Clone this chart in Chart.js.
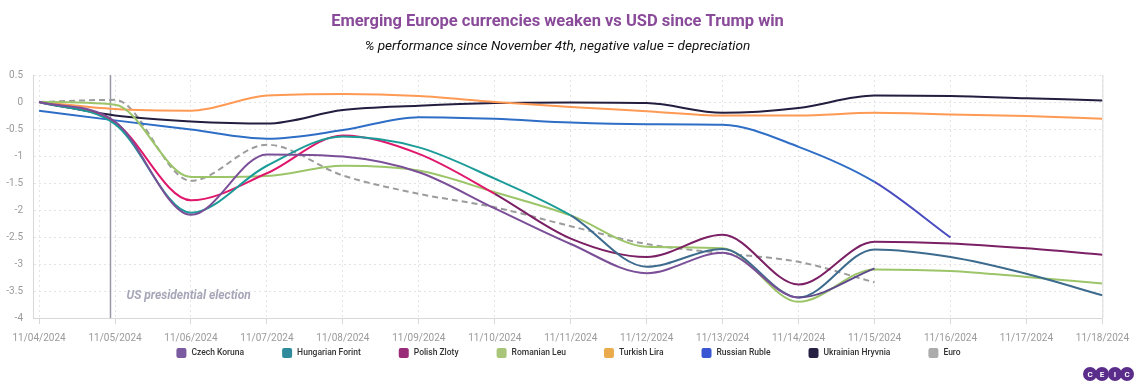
<!DOCTYPE html>
<html><head><meta charset="utf-8">
<script src="https://cdn.jsdelivr.net/npm/chart.js@4.4.1/dist/chart.umd.min.js"></script>
<style>html,body{margin:0;padding:0;background:#fff;}#wrap{width:1137px;height:389px;position:relative;}</style>
</head><body><div id="wrap"><canvas id="c" width="1137" height="389"></canvas></div>
<script>
const titleText = 'Emerging Europe currencies weaken vs USD since Trump win';
const subtitleText = '% performance since November 4th, negative value = depreciation';
const electionLabel = 'US presidential election';
const electionDay = 0.94;
const dates = ['11/04/2024','11/05/2024','11/06/2024','11/07/2024','11/08/2024','11/09/2024','11/10/2024','11/11/2024','11/12/2024','11/13/2024','11/14/2024','11/15/2024','11/16/2024','11/17/2024','11/18/2024'];
const yTickValues = [-4,-3.5,-3,-2.5,-2,-1.5,-1,-0.5,0,0.5];
const seriesNames = ['Czech Koruna','Hungarian Forint','Polish Zloty','Romanian Leu','Turkish Lira','Russian Ruble','Ukrainian Hryvnia','Euro'];
const czechKoruna = [0,-0.36,-2.09,-0.97,-1.01,-1.30,-1.97,-2.63,-3.17,-2.79,-3.62,-3.08];
const hungarianForint = [0,-0.41,-2.05,-1.18,-0.64,-0.84,-1.42,-2.10,-3.05,-2.72,-3.62,-2.73,-2.87,-3.18,-3.58];
const polishZloty = [0,-0.38,-1.82,-1.32,-0.62,-0.96,-1.70,-2.53,-2.87,-2.46,-3.38,-2.59,-2.62,-2.71,-2.83];
const romanianLeu = [0,-0.05,-1.39,-1.37,-1.18,-1.27,-1.67,-2.10,-2.68,-2.71,-3.70,-3.10,-3.13,-3.24,-3.36];
const turkishLira = [0,-0.13,-0.16,0.12,0.15,0.11,0.0,-0.09,-0.17,-0.25,-0.25,-0.20,-0.23,-0.26,-0.31];
const russianRuble = [-0.16,-0.34,-0.51,-0.68,-0.52,-0.28,-0.31,-0.38,-0.41,-0.42,-0.83,-1.48,-2.51];
const ukrainianHryvnia = [0,-0.25,-0.36,-0.40,-0.15,-0.07,-0.02,-0.01,-0.02,-0.20,-0.11,0.12,0.11,0.07,0.03];
const euro = [0,0.04,-1.46,-0.79,-1.36,-1.70,-1.95,-2.30,-2.63,-2.80,-2.96,-3.34];

const seriesValues = [czechKoruna,hungarianForint,polishZloty,romanianLeu,turkishLira,russianRuble,ukrainianHryvnia,euro];
const lineColors = ['#7b4f97','#1c9c98','#e0186c','#9cc56a','#ff9a55','#2f6ec6','#231d3f','#9c9c9c'];
const lateColors = ['#5f4a8c','#3d6b8e','#7b2064',null,null,'#4a4cc0',null,null];
const lateFrom = [10,7,6,null,null,11,null,null];
const legendColors = ['#7a5aa0','#2f8b9b','#9a2b78','#a9c57a','#e9ab4b','#3b56d2','#262143','#ababab'];

Chart.defaults.font.family = "Roboto, 'Noto Sans', sans-serif";

const datasets = seriesValues.map((vals, k) => ({
  label: seriesNames[k],
  data: vals.map((v, i) => ({x: i, y: v})),
  borderColor: lineColors[k],
  backgroundColor: legendColors[k],
  borderWidth: 2,
  borderDash: k === 7 ? [6,4] : [],
  pointRadius: 0,
  cubicInterpolationMode: 'monotone',
  fill: false,
  segment: lateColors[k] ? { borderColor: c => c.p0DataIndex >= lateFrom[k] ? lateColors[k] : undefined } : {}
}));

const extras = {
  id: 'extras',
  beforeDatasetsDraw(chart) {
    const {ctx, chartArea: a, scales: {x}} = chart;
    const px = x.getPixelForValue(electionDay);
    ctx.save();
    ctx.strokeStyle = '#dadada'; ctx.lineWidth = 1;
    ctx.beginPath(); ctx.moveTo(a.right + 0.5, a.top); ctx.lineTo(a.right + 0.5, a.bottom); ctx.stroke();
    ctx.strokeStyle = '#9797a8'; ctx.lineWidth = 1.5;
    ctx.beginPath(); ctx.moveTo(px, a.top); ctx.lineTo(px, a.bottom); ctx.stroke();
    ctx.font = "italic bold 12px Roboto"; ctx.fillStyle = '#a6a6b8';
    ctx.textBaseline = 'middle'; ctx.textAlign = 'left';
    ctx.fillText(electionLabel, px + 16, a.bottom - 22);
    ctx.restore();
  },
  afterDraw(chart) {
    const ctx = chart.ctx;
    ctx.save();
    ctx.font = "500 8.5px Roboto";
    const gap = 38;
    const widths = seriesNames.map(n => 15 + ctx.measureText(n).width);
    const total = widths.reduce((s, w) => s + w, 0) + gap * (widths.length - 1);
    let lx = (chart.width - total) / 2;
    const ly = 353;
    seriesNames.forEach((n, k) => {
      ctx.fillStyle = legendColors[k];
      ctx.beginPath();
      ctx.roundRect(lx, ly - 5, 10, 10, 2);
      ctx.fill();
      ctx.fillStyle = '#333';
      ctx.textBaseline = 'middle'; ctx.textAlign = 'left';
      ctx.fillText(n, lx + 15, ly);
      lx += widths[k] + gap;
    });
    const cx = [1090, 1102, 1115, 1127];
    const letters = ['C','E','I','C'];
    cx.forEach(c => {
      ctx.fillStyle = '#5a2d8a';
      ctx.beginPath(); ctx.arc(c, 374, 7, 0, Math.PI * 2); ctx.fill();
    });
    ctx.font = "bold 8px Roboto"; ctx.fillStyle = '#fff'; ctx.textAlign = 'center';
    cx.forEach((c, i) => ctx.fillText(letters[i], c, 374.5));
    ctx.restore();
  }
};

new Chart(document.getElementById('c'), {
  type: 'line',
  data: { datasets },
  plugins: [extras],
  options: {
    responsive: false,
    animation: false,
    devicePixelRatio: 1,
    layout: { padding: { top: 0, left: 0, right: 22, bottom: 41 } },
    plugins: {
      legend: { display: false },
      tooltip: { enabled: false },
      title: { display: true, text: titleText, color: '#8a4a9a', font: { size: 16.5, weight: 'bold' }, padding: { top: 12, bottom: 7 } },
      subtitle: { display: true, text: subtitleText, color: '#111', font: { size: 13.6, style: 'italic', weight: 'normal' }, padding: { top: 0, bottom: 19.9 } }
    },
    scales: {
      x: {
        type: 'linear', min: -0.08, max: 14,
        afterBuildTicks: s => { s.ticks = dates.map((d, i) => ({ value: i })); },
        afterFit: s => { s.height = 30; },
        ticks: { callback: v => dates[v], color: '#9a9a9a', font: { size: 10 }, maxRotation: 0, autoSkip: false, padding: 8 },
        grid: { color: '#e4e4e4', tickColor: '#d8d8d8', tickLength: 6, tickBorderDash: [] },
        border: { color: '#d8d8d8', dash: [2, 3] }
      },
      y: {
        min: -4, max: 0.5,
        afterBuildTicks: s => { s.ticks = yTickValues.map(v => ({ value: v })); },
        afterFit: s => { s.width = 33; },
        ticks: { callback: v => String(v), color: '#9a9a9a', font: { size: 10 }, padding: 10 },
        grid: { color: '#e4e4e4', drawTicks: false },
        border: { color: '#d8d8d8', dash: [2, 3] }
      }
    }
  }
});
</script></body></html>
